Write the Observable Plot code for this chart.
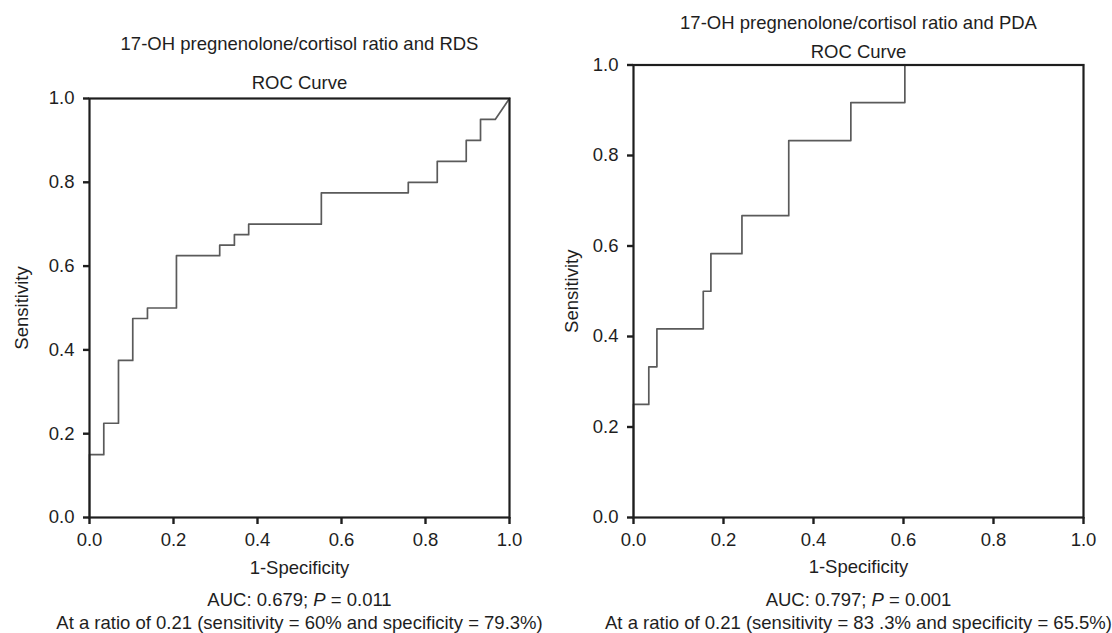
<!DOCTYPE html>
<html><head><meta charset="utf-8">
<script src="https://cdn.jsdelivr.net/npm/d3@7"></script>
<script src="https://cdn.jsdelivr.net/npm/@observablehq/plot@0.6"></script>
<style>
html,body{margin:0;padding:0;background:#fff;}
#wrap{display:flex;width:1112px;height:633px;overflow:hidden;}
#wrap svg{display:block;}
</style></head><body><div id="wrap"></div>
<script>
// ---- data ----
const tickValues = [0, 0.2, 0.4, 0.6, 0.8, 1.0];
// RDS ROC curve vertices (1-specificity, sensitivity)
const rdsFpr = [0, 0, 0.034, 0.034, 0.069, 0.069, 0.103, 0.103, 0.138, 0.138, 0.207, 0.207, 0.310, 0.310, 0.345, 0.345, 0.379, 0.379, 0.552, 0.552, 0.759, 0.759, 0.828, 0.828, 0.897, 0.897, 0.931, 0.931, 0.966, 1.0];
const rdsTpr = [0, 0.15, 0.15, 0.225, 0.225, 0.375, 0.375, 0.475, 0.475, 0.5, 0.5, 0.625, 0.625, 0.65, 0.65, 0.675, 0.675, 0.7, 0.7, 0.775, 0.775, 0.8, 0.8, 0.85, 0.85, 0.9, 0.9, 0.95, 0.95, 1.0];
// PDA ROC curve vertices
const pdaFpr = [0, 0, 0.034, 0.034, 0.052, 0.052, 0.155, 0.155, 0.172, 0.172, 0.241, 0.241, 0.345, 0.345, 0.483, 0.483, 0.603, 0.603, 1.0];
const pdaTpr = [0, 0.25, 0.25, 0.333, 0.333, 0.417, 0.417, 0.5, 0.5, 0.583, 0.583, 0.667, 0.667, 0.833, 0.833, 0.917, 0.917, 1.0, 1.0];
const panelTitles = ["17-OH pregnenolone/cortisol ratio and RDS", "17-OH pregnenolone/cortisol ratio and PDA"];
const subTitle = "ROC Curve";
const xLabel = "1-Specificity";
const yLabel = "Sensitivity";
const aucValues = ["0.679", "0.797"];
const pValues = ["0.011", "0.001"];
const ratioNotes = [
  "At a ratio of 0.21 (sensitivity = 60% and specificity = 79.3%)",
  "At a ratio of 0.21 (sensitivity = 83 .3% and specificity = 65.5%)"
];

const FONT = "'Liberation Sans', Arial, Helvetica, sans-serif";
const INK = "#1e1e1e";
const FS = 18.5;

function panel(fpr, tpr, i, lay) {
  const pts = fpr.map((x, k) => ({x, y: tpr[k]}));
  const one = [0];
  const txt = (text, o) => Plot.text(one, {text: () => text, fill: INK, fontSize: FS, lineAnchor: "middle", textAnchor: "middle", ...o});
  const svg = Plot.plot({
    width: 556, height: 633,
    marginLeft: lay.ml, marginRight: lay.mr, marginTop: lay.mt, marginBottom: lay.mb,
    style: {fontFamily: FONT, fontSize: FS + "px", color: INK, background: "#fff", overflow: "visible"},
    x: {domain: [0, 1]},
    y: {domain: [0, 1]},
    marks: [
      Plot.line(pts, {x: "x", y: "y", stroke: "#5a5a5a", strokeWidth: 1.7}),
      Plot.frame({stroke: INK, strokeWidth: 2.2}),
      Plot.axisX({ticks: tickValues, tickFormat: d3.format(".1f"), tickSize: 7, tickPadding: 8, strokeWidth: 2.4, stroke: INK, fill: INK, label: null, fontSize: FS}),
      Plot.axisY({ticks: tickValues, tickFormat: d3.format(".1f"), tickSize: 6, tickPadding: 9, strokeWidth: 2.4, stroke: INK, fill: INK, label: null, fontSize: FS}),
      txt(panelTitles[i], {frameAnchor: "top", dy: lay.titleDy}),
      txt(subTitle, {frameAnchor: "top", dy: lay.subDy}),
      txt(xLabel, {frameAnchor: "bottom", dy: lay.xlabDy}),
      txt(yLabel, {frameAnchor: "left", dx: lay.ylabDx, rotate: -90}),
      txt(`AUC: ${aucValues[i]}; P = ${pValues[i]}`, {frameAnchor: "bottom", dy: lay.aucDy}),
      txt(ratioNotes[i], {frameAnchor: "bottom", dy: lay.noteDy})
    ]
  });
  // italic P in the AUC line
  d3.select(svg).selectAll("text").each(function() {
    const t = this.textContent;
    if (t.startsWith("AUC:") && this.children.length === 0) {
      const m = t.match(/^(AUC: [^;]+; )P( = .*)$/);
      if (m) {
        const s = d3.select(this);
        s.text(null);
        s.append("tspan").text(m[1]);
        s.append("tspan").attr("font-style", "italic").text("P");
        s.append("tspan").text(m[2]);
      }
    }
  });
  return svg;
}

const wrap = document.getElementById("wrap");
wrap.appendChild(panel(rdsFpr, rdsTpr, 0, {ml: 89, mr: 47, mt: 98, mb: 116, titleDy: -54, subDy: -15, xlabDy: 51, ylabDx: -67, aucDy: 83, noteDy: 106}));
wrap.appendChild(panel(pdaFpr, pdaTpr, 1, {ml: 77, mr: 29, mt: 64.5, mb: 116, titleDy: -42, subDy: -13, xlabDy: 50, ylabDx: -61, aucDy: 83, noteDy: 106}));
</script>
</body></html>
